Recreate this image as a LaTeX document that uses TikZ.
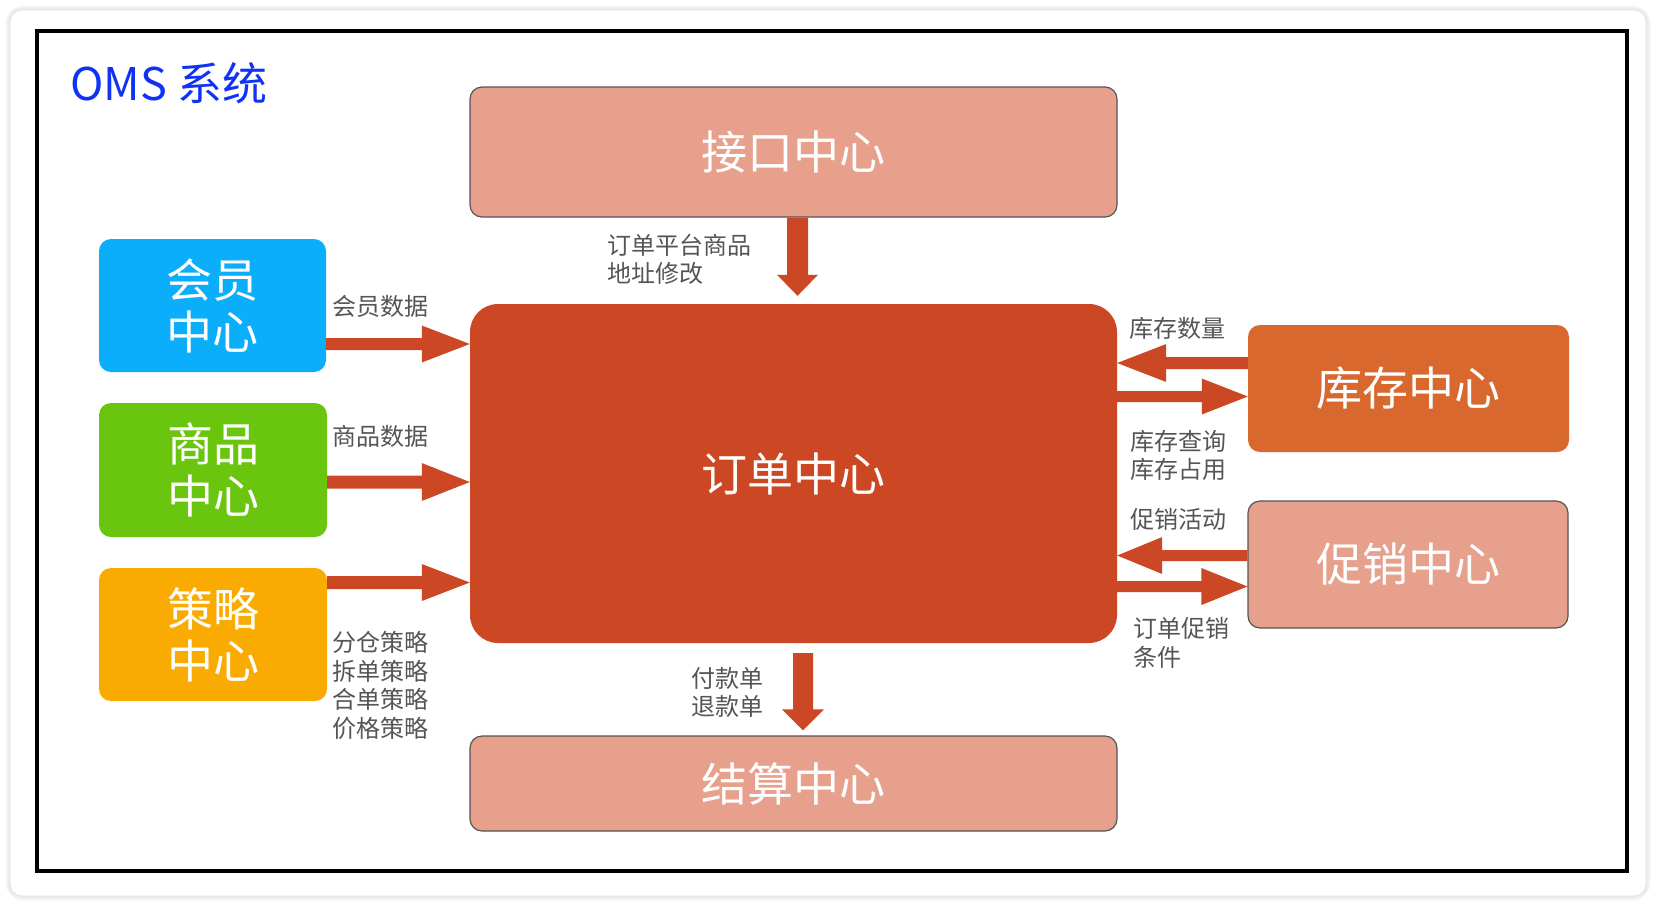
\documentclass[tikz,border=0pt]{standalone}
\usepackage{fontspec}
\setmainfont{Noto Sans CJK SC}
\usetikzlibrary{calc}
\definecolor{jkc}{RGB}{230,160,140}
\definecolor{ddc}{RGB}{204,72,36}
\definecolor{hyc}{RGB}{10,174,250}
\definecolor{spc}{RGB}{106,197,15}
\definecolor{clc}{RGB}{250,171,2}
\definecolor{kcc}{RGB}{217,104,46}
\definecolor{lblc}{RGB}{85,85,85}
\definecolor{titlec}{RGB}{15,50,245}
\definecolor{edgec}{RGB}{85,85,85}
\newcommand\blockarrow[5]{%
  \path (#1) coordinate (bas) (#2) coordinate (bat) ($(#2)!#5!(#1)$) coordinate (bab);
  \fill[arrowc] ($(bas)!#3!90:(bat)$) -- ($(bab)!#3!90:(bat)$) -- ($(bab)!#4!90:(bat)$) -- (bat)
    -- ($(bab)!#4!-90:(bat)$) -- ($(bab)!#3!-90:(bat)$) -- ($(bas)!#3!-90:(bat)$) -- cycle;}
\begin{document}
\begin{tikzpicture}[x=1pt,y=-1pt,
  box/.style={rectangle, rounded corners=12pt, inner sep=0pt, align=center, text=white,
    font=\fontsize{46}{52}\selectfont},
  edged/.style={draw=edgec, line width=1.2pt},
  lbl/.style={font=\fontsize{24}{28.5}\selectfont, text=lblc, anchor=west, align=left, inner sep=0pt},
  arrowc/.style={fill=ddc}]
\useasboundingbox (0,0) rectangle (1656,906);
\fill[white] (0,0) rectangle (1656,906);
% card with soft shadow
\draw[line width=9pt, black!4, rounded corners=14pt] (10,10) rectangle (1646,896);
\draw[line width=5pt, black!7, rounded corners=12pt] (10,10) rectangle (1646,896);
\fill[white, rounded corners=12pt] (10,10) rectangle (1646,896);
\draw[black!12, line width=0.8pt, rounded corners=12pt] (10,10) rectangle (1646,896);
% frame
\draw[black, line width=4pt] (37,31) rectangle (1627,871);
% title
\node[anchor=west, inner sep=0pt, text=titlec, font=\fontsize{45}{50}\selectfont] (title) at (70,83) {OMS 系统};
% boxes
\node[box, edged, fill=jkc, minimum width=647pt, minimum height=130pt] (jk) at (793.5,152) {接口中心};
\node[box, fill=ddc, rounded corners=28pt, minimum width=647pt, minimum height=339pt] (dd) at (793.5,473.5) {订单中心};
\node[box, edged, fill=jkc, minimum width=647pt, minimum height=95pt] (js) at (793.5,783.5) {结算中心};
\node[box, fill=hyc, minimum width=227pt, minimum height=133pt] (hy) at (212.5,305.5) {会员\\中心};
\node[box, fill=spc, minimum width=228pt, minimum height=134pt] (sp) at (213,470) {商品\\中心};
\node[box, fill=clc, minimum width=228pt, minimum height=133pt] (cl) at (213,634.5) {策略\\中心};
\node[box, fill=kcc, minimum width=321pt, minimum height=127pt] (kc) at (1408.5,388.5) {库存中心};
\node[box, edged, fill=jkc, minimum width=320pt, minimum height=127pt] (cx) at (1408,564.5) {促销中心};
% connector end points
\coordinate (a1s) at (797.5,0 |- jk.south);
\coordinate (a1e) at ($(797.5,0 |- dd.north)+(0,-8)$);
\coordinate (a2s) at ($(803,0 |- dd.south)+(0,10)$);
\coordinate (a2e) at ($(803,0 |- js.north)+(0,-5)$);
\coordinate (a3s) at (hy.east |- 0,344);
\coordinate (a3e) at (dd.west |- 0,344);
\coordinate (a4s) at (sp.east |- 0,482);
\coordinate (a4e) at (dd.west |- 0,482);
\coordinate (a5s) at (cl.east |- 0,582.5);
\coordinate (a5e) at (dd.west |- 0,582.5);
\coordinate (a6s) at (kc.west |- 0,363);
\coordinate (a6e) at (dd.east |- 0,363);
\coordinate (a7s) at (dd.east |- 0,396.5);
\coordinate (a7e) at (kc.west |- 0,396.5);
\coordinate (a8s) at (cx.west |- 0,555.5);
\coordinate (a8e) at (dd.east |- 0,555.5);
\coordinate (a9s) at (dd.east |- 0,586.5);
\coordinate (a9e) at (cx.west |- 0,586.5);
% arrows
\blockarrow{a1s}{a1e}{10.5pt}{20.5pt}{21pt}
\blockarrow{a2s}{a2e}{10pt}{21pt}{21pt}
\blockarrow{a3s}{a3e}{6pt}{18.5pt}{48pt}
\blockarrow{a4s}{a4e}{6.5pt}{19pt}{48pt}
\blockarrow{a5s}{a5e}{6.5pt}{18.5pt}{48pt}
\blockarrow{a6s}{a6e}{6pt}{19pt}{49pt}
\blockarrow{a7s}{a7e}{5.5pt}{18pt}{46pt}
\blockarrow{a8s}{a8e}{5.5pt}{18.5pt}{45pt}
\blockarrow{a9s}{a9e}{5.5pt}{18.5pt}{46pt}
% labels
\node[lbl] (l1) at (607,259.5) {订单平台商品\\地址修改};
\node[lbl] (l2) at (332,306) {会员数据};
\node[lbl] (l3) at (332,436) {商品数据};
\node[lbl] (l4) at (332,685.5) {分仓策略\\拆单策略\\合单策略\\价格策略};
\node[lbl] (l5) at (1129,328) {库存数量};
\node[lbl] (l6) at (1130,455.5) {库存查询\\库存占用};
\node[lbl] (l7) at (1130,519) {促销活动};
\node[lbl] (l8) at (1133,643) {订单促销\\条件};
\node[lbl] (l9) at (691,692.5) {付款单\\退款单};
\end{tikzpicture}
\end{document}
